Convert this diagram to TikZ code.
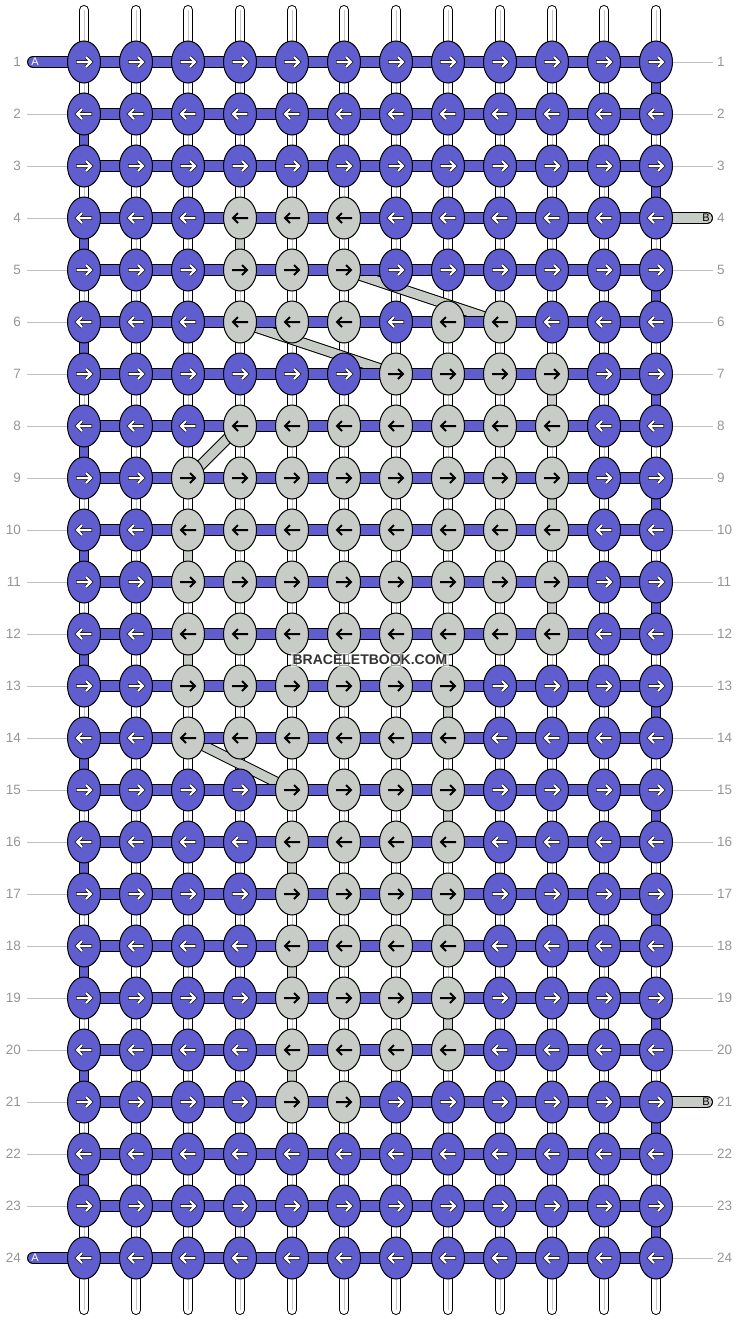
\documentclass[tikz,border=0pt]{standalone}
\usepackage{fontspec}
\setmainfont{Liberation Sans}
\usetikzlibrary{calc,shapes.geometric}
\definecolor{kblue}{RGB}{96,94,206}
\definecolor{kgrey}{RGB}{200,204,198}
\definecolor{lbl}{RGB}{150,150,150}
\definecolor{lline}{RGB}{192,192,192}
\definecolor{cline}{RGB}{200,200,200}
\tikzset{
  knot/.style={ellipse, draw=black, line width=1pt, inner sep=0pt, minimum width=33pt, minimum height=42pt},
  barout/.style={draw=black, line width=12pt},
  barin/.style={line width=10pt},
  vout/.style={draw=black, line width=10pt},
  vin/.style={line width=8pt},
  lbltext/.style={text=lbl, font=\fontsize{13.5}{16}\selectfont, inner sep=0pt},
  lblline/.style={draw=lline, line width=1pt},
  stubtext/.style={font=\fontsize{11}{13}\selectfont, inner sep=0pt},
}
\begin{document}
\begin{tikzpicture}[x=1pt,y=-1pt]
\useasboundingbox (0,0) rectangle (740,1320);
\fill[white] (0,0) rectangle (740,1320);
% grid coordinates
\foreach \r in {1,...,24} {
  \foreach \c in {1,...,12} {
    \coordinate (p-\r-\c) at ({84+52*(\c-1)},{62+52*(\r-1)});
  }
}
\foreach \c in {1,...,12} {
  \coordinate (t-\c) at ({84+52*(\c-1)},10);
  \coordinate (b-\c) at ({84+52*(\c-1)},1310);
}
% vertical strands
\foreach \c in {1,...,12} {
  \draw[vout, line cap=round] (t-\c) -- (b-\c);
  \draw[vin, white, line cap=round] (t-\c) -- (b-\c);
  \draw[cline, line width=0.8pt] (t-\c) -- (b-\c);
}
% blue edge verticals
\foreach \r [evaluate=\r as \n using int(\r+1)] in {2,4,...,22} {
  \draw[vout] (p-\r-1) -- (p-\n-1);
  \draw[vin, kblue] (p-\r-1) -- (p-\n-1);
}
\foreach \r [evaluate=\r as \n using int(\r+1)] in {1,3,...,23} {
  \draw[vout] (p-\r-12) -- (p-\n-12);
  \draw[vin, kblue] (p-\r-12) -- (p-\n-12);
}
% grey verticals
\foreach \r/\c [evaluate=\r as \n using int(\r+1)] in {4/4,7/10,9/10,11/10,10/3,12/3,13/8,15/8,17/8,19/8,16/5,18/5,20/5} {
  \draw[vout] (p-\r-\c) -- (p-\n-\c);
  \draw[vin, kgrey] (p-\r-\c) -- (p-\n-\c);
}
% diagonals
\foreach \ra/\ca/\rb/\cb in {5/6/6/9, 6/4/7/7, 8/4/9/3, 14/3/15/5} {
  \draw[barout, line width=11pt] (p-\ra-\ca) -- (p-\rb-\cb);
  \draw[barin, line width=9pt, kgrey] (p-\ra-\ca) -- (p-\rb-\cb);
}
% label lines
\foreach \r in {2,...,23} {
  \draw[lblline] (27,{62+52*(\r-1)}) -- (p-\r-1);
}
\foreach \r in {1,2,3,5,6,...,20,22,23,24} {
  \draw[lblline] (p-\r-12) -- (713,{62+52*(\r-1)});
}
% horizontal bars
\coordinate (a1) at (33,62);
\coordinate (a24) at (33,1258);
\coordinate (b4) at (707,218);
\coordinate (b21) at (707,1102);
\foreach \r in {2,...,23} {
  \draw[barout] (p-\r-1) -- (p-\r-12);
  \draw[barin, kblue] (p-\r-1) -- (p-\r-12);
}
\draw[barout, line cap=round] (a1) -- (p-1-12);
\draw[barin, kblue, line cap=round] (a1) -- (p-1-12);
\draw[barout, line cap=round] (a24) -- (p-24-12);
\draw[barin, kblue, line cap=round] (a24) -- (p-24-12);
\draw[barout, line cap=round] (p-4-12) -- (b4);
\draw[barin, kgrey, line cap=round] (p-4-12) -- (b4);
\draw[barout, line cap=round] (p-21-12) -- (b21);
\draw[barin, kgrey, line cap=round] (p-21-12) -- (b21);
\node[stubtext, text=white] (la1) at (35,62) {A};
\node[stubtext, text=white] (la24) at (35,1258) {A};
\node[stubtext, text=black] (lb4) at (706,218) {B};
\node[stubtext, text=black] (lb21) at (706,1102) {B};
% knots
\foreach \r in {1,...,24} {
  \foreach \c in {1,...,12} {
    \pgfmathtruncatemacro\isg{
      ((\r>=4)&&(\r<=6)&&(\c>=4)&&(\c<=6)) ||
      ((\r==6)&&(\c>=8)&&(\c<=9)) ||
      ((\r==7)&&(\c>=7)&&(\c<=10)) ||
      ((\r==8)&&(\c>=4)&&(\c<=10)) ||
      ((\r>=9)&&(\r<=12)&&(\c>=3)&&(\c<=10)) ||
      ((\r>=13)&&(\r<=14)&&(\c>=3)&&(\c<=8)) ||
      ((\r>=15)&&(\r<=20)&&(\c>=5)&&(\c<=8)) ||
      ((\r==21)&&(\c>=5)&&(\c<=6))}
    \pgfmathtruncatemacro\dir{ifthenelse(mod(\r,2)==1,1,-1)}
    \ifnum\isg=1
      \node[knot, fill=kgrey] (k-\r-\c) at (p-\r-\c) {};
      \begin{scope}[shift={(k-\r-\c.center)}, xscale=\dir]
        \draw[black, line width=2pt, line join=miter] (-8,0) -- (7,0) (2,-5) -- (7,0) -- (2,5);
      \end{scope}
    \else
      \node[knot, fill=kblue] (k-\r-\c) at (p-\r-\c) {};
      \begin{scope}[shift={(k-\r-\c.center)}, xscale=\dir]
        \draw[black!85, line width=3.6pt, line join=miter] (-8,0) -- (7,0) (2,-5) -- (7,0) -- (2,5);
        \draw[white, line width=2pt, line join=miter] (-7.4,0) -- (6.4,0) (2,-5) -- (7,0) -- (2,5);
      \end{scope}
    \fi
  }
}
% row labels
\foreach \r in {1,...,24} {
  \node[lbltext, anchor=east] (ll-\r) at (21,{62+52*(\r-1)}) {\r};
  \node[lbltext, anchor=west] (rl-\r) at (717,{62+52*(\r-1)}) {\r};
}
% watermark
\node[font=\bfseries\fontsize{14}{16}\selectfont, text=black!80, fill=white, fill opacity=0.6, text opacity=1, inner sep=2pt] (wm) at (370,660) {BRACELETBOOK.COM};
\end{tikzpicture}
\end{document}
